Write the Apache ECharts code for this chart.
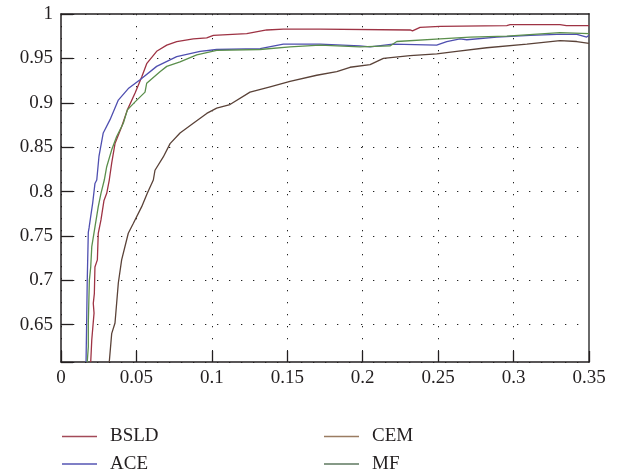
<!DOCTYPE html>
<html>
<head>
<meta charset="utf-8">
<script src="https://cdn.jsdelivr.net/npm/echarts@6/dist/echarts.min.js"></script>
<style>
html,body{margin:0;padding:0;background:#fff;}
#chart{width:621px;height:475px;}
</style>
</head>
<body>
<div id="chart"></div>
<script>
// Series data: [false positive rate, detection rate]
var seriesNames = ['BSLD', 'ACE', 'CEM', 'MF'];

var bsld = [[0.0197,0.608],[0.0204,0.633],[0.0219,0.663],[0.0214,0.674],[0.0221,0.685],[0.0225,0.715],[0.0241,0.723],[0.0247,0.753],[0.0265,0.768],[0.0285,0.790],[0.0303,0.798],[0.0320,0.813],[0.0336,0.832],[0.0358,0.854],[0.0402,0.873],[0.0440,0.892],[0.0491,0.911],[0.0535,0.929],[0.0568,0.944],[0.0634,0.958],[0.0701,0.965],[0.0767,0.969],[0.0877,0.972],[0.0966,0.973],[0.1010,0.976],[0.1231,0.978],[0.1364,0.982],[0.1474,0.983],[0.1717,0.983],[0.2314,0.982],[0.2330,0.981],[0.2380,0.985],[0.2513,0.986],[0.2955,0.987],[0.2977,0.988],[0.3308,0.988],[0.3350,0.987],[0.35,0.987]];

var ace = [[0.0166,0.608],[0.0170,0.652],[0.0174,0.700],[0.0181,0.754],[0.0186,0.759],[0.0197,0.772],[0.0210,0.787],[0.0225,0.809],[0.0237,0.813],[0.0252,0.840],[0.0280,0.866],[0.0325,0.881],[0.0380,0.903],[0.0446,0.916],[0.0524,0.926],[0.0634,0.941],[0.0767,0.952],[0.0922,0.958],[0.1032,0.960],[0.1320,0.961],[0.1474,0.966],[0.1717,0.966],[0.1980,0.964],[0.2049,0.963],[0.2200,0.966],[0.2490,0.965],[0.2557,0.969],[0.2645,0.972],[0.2690,0.971],[0.2889,0.974],[0.3110,0.976],[0.3286,0.977],[0.3420,0.977],[0.3485,0.974],[0.35,0.976]];

var cem = [[0.0320,0.608],[0.0336,0.640],[0.0358,0.652],[0.0380,0.697],[0.0402,0.723],[0.0446,0.753],[0.0479,0.764],[0.0535,0.783],[0.0572,0.798],[0.0612,0.813],[0.0623,0.824],[0.0678,0.839],[0.0723,0.854],[0.0789,0.866],[0.0877,0.877],[0.0966,0.888],[0.1032,0.894],[0.1120,0.898],[0.1253,0.912],[0.1386,0.918],[0.1518,0.924],[0.1695,0.931],[0.1828,0.935],[0.1916,0.940],[0.2049,0.943],[0.2137,0.950],[0.2314,0.953],[0.2491,0.955],[0.2623,0.958],[0.2822,0.962],[0.3088,0.966],[0.3308,0.970],[0.3419,0.969],[0.35,0.967]];

var mf = [[0.0174,0.608],[0.0181,0.625],[0.0181,0.652],[0.0188,0.700],[0.0197,0.715],[0.0204,0.738],[0.0225,0.760],[0.0247,0.783],[0.0265,0.798],[0.0287,0.813],[0.0303,0.828],[0.0336,0.847],[0.0369,0.862],[0.0413,0.877],[0.0440,0.892],[0.0491,0.901],[0.0557,0.912],[0.0568,0.922],[0.0656,0.935],[0.0701,0.941],[0.0789,0.946],[0.0900,0.954],[0.1032,0.959],[0.1319,0.960],[0.1518,0.963],[0.1717,0.965],[0.1982,0.963],[0.2181,0.964],[0.2226,0.969],[0.2513,0.972],[0.2712,0.974],[0.2955,0.975],[0.3308,0.979],[0.35,0.978]];

var xTickLabels = ['0','0.05','0.1','0.15','0.2','0.25','0.3','0.35'];
var yTickLabels = ['0.65','0.7','0.75','0.8','0.85','0.9','0.95','1'];

var colors = {BSLD:'#9e3344', ACE:'#4f4fb0', CEM:'#5a4238', MF:'#5b8f4c'};
var legendColors = {BSLD:'#a34a58', ACE:'#5656b4', CEM:'#9a7c62', MF:'#5f7a60'};
var font = '"Liberation Serif", "DejaVu Serif", serif';

function fmt(list){
  return function(v){
    var s = String(Math.round(v*100)/100);
    return list.indexOf(s) >= 0 && Math.abs(v*20 - Math.round(v*20)) < 1e-6 ? s : '';
  };
}

var chart = echarts.init(document.getElementById('chart'), null, {renderer:'canvas'});
var dataMap = {BSLD:bsld, ACE:ace, CEM:cem, MF:mf};
var legendPos = {BSLD:[62,427], ACE:[62,454.5], CEM:[324,427], MF:[324,454.5]};
// line sample 35 wide, followed by transparent space so the label sits further right
var legendIcon = 'path://M0,0L35,0L35,1.6L0,1.6Z M43,0L43,1.6';

function makeLegend(n){
  return {
    data:[{name:n, icon:legendIcon, itemStyle:{color:legendColors[n]}}],
    orient:'horizontal', left:legendPos[n][0], top:legendPos[n][1],
    itemWidth:43, itemHeight:1.6, padding:0,
    textStyle:{fontFamily:font, fontSize:19, color:'#231f20'}
  };
}

var option = {
  animation:false,
  backgroundColor:'#fff',
  grid:{left:61, right:32, top:14, bottom:113, containLabel:false},
  legend: seriesNames.map(makeLegend),
  xAxis:[{
    type:'value', min:0, max:0.35, splitNumber:7,
    axisLine:{show:true, lineStyle:{color:'#231f20', width:1.5}},
    axisTick:{show:true, inside:true, length:11, lineStyle:{color:'#231f20', width:1.3}},
    axisLabel:{fontFamily:font, fontSize:19, color:'#231f20', margin:7, formatter:fmt(xTickLabels),
               showMinLabel:true, showMaxLabel:true},
    splitLine:{show:true, lineStyle:{color:'#222', width:1, type:[1.3,10.7]}}
  },{
    type:'value', min:0, max:0.35, position:'top',
    axisLine:{show:true, onZero:false, lineStyle:{color:'#231f20', width:1.5}},
    axisTick:{show:false}, axisLabel:{show:false}, splitLine:{show:false}
  }],
  yAxis:[{
    type:'value', min:0.608, max:1, splitNumber:8,
    axisLine:{show:true, lineStyle:{color:'#231f20', width:1.5}},
    axisTick:{show:true, inside:true, length:12, lineStyle:{color:'#231f20', width:1.3}},
    axisLabel:{fontFamily:font, fontSize:19, color:'#231f20', margin:8, formatter:fmt(yTickLabels)},
    splitLine:{show:true, lineStyle:{color:'#222', width:1, type:[1.3,10.7]}}
  },{
    type:'value', min:0.608, max:1, position:'right',
    axisLine:{show:true, onZero:false, lineStyle:{color:'#6a6a6a', width:2}},
    axisTick:{show:false}, axisLabel:{show:false}, splitLine:{show:false}
  }],
  series: seriesNames.map(function(n){
    return {
      name:n, type:'line', data:dataMap[n], xAxisIndex:0, yAxisIndex:0,
      symbol:'none', showSymbol:false, smooth:false, clip:true,
      lineStyle:{color:colors[n], width:1.3}, itemStyle:{color:colors[n]}
    };
  })
};
chart.setOption(option);
</script>
</body>
</html>
